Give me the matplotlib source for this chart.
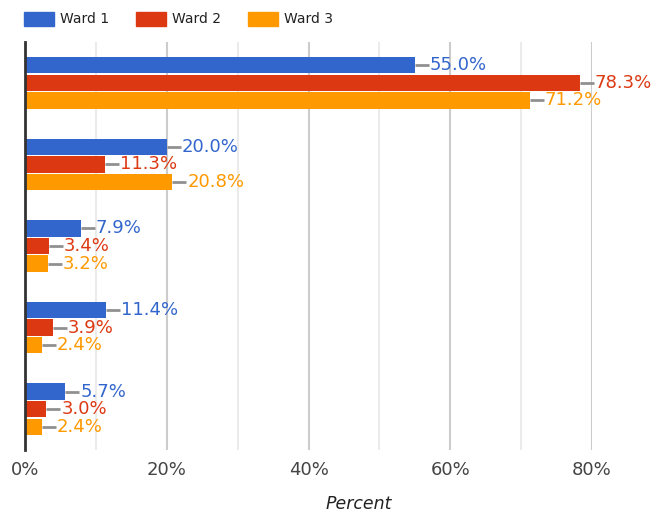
import numpy as np
import matplotlib.pyplot as plt
from matplotlib.patches import Rectangle

series = ["Ward 1", "Ward 2", "Ward 3"]
colors = ["#3366cc", "#dc3912", "#ff9900"]
ward1 = [55.0, 20.0, 7.9, 11.4, 5.7]
ward2 = [78.3, 11.3, 3.4, 3.9, 3.0]
ward3 = [71.2, 20.8, 3.2, 2.4, 2.4]
values = [ward1, ward2, ward3]
xticks = [0, 20, 40, 60, 80]
xtick_labels = ["0%", "20%", "40%", "60%", "80%"]

W, H = 652, 515
fig = plt.figure(figsize=(W / 100, H / 100), dpi=100)
ax = fig.add_axes([25 / W, 1 - 450 / H, 567 / W, 408 / H])

xmax = 80
px = xmax / 567.0  # data units per pixel
bar_h = 0.2
step = 0.215
groups = np.arange(len(ward1))

for i, (name, vals, c) in enumerate(zip(series, values, colors)):
    y = groups + (i - 1) * step
    ax.barh(y, vals, height=bar_h, color=c, label=name, zorder=3)
    for yy, v in zip(y, vals):
        ax.plot([v, v + 14 * px], [yy, yy], color="#909090", lw=2,
                zorder=2, clip_on=False, solid_capstyle="butt")
        ax.text(v + 15 * px, yy, f"{v:.1f}%", color=c, fontsize=13,
                va="center", ha="left", clip_on=False, zorder=4)

ax.set_xlim(0, xmax)
ax.set_ylim(4.5, -0.5)
ax.set_yticks([])
ax.set_xticks(xticks)
ax.set_xticklabels(xtick_labels, color="#444444", fontsize=13)
ax.set_xticks([10, 30, 50, 70], minor=True)
ax.tick_params(axis="x", which="both", length=0, pad=8)
ax.grid(axis="x", which="major", color="#cccccc", lw=1.5, zorder=0)
ax.grid(axis="x", which="minor", color="#ebebeb", lw=1.5, zorder=0)
for s in ["top", "right", "bottom"]:
    ax.spines[s].set_visible(False)
ax.spines["left"].set_color("#333333")
ax.spines["left"].set_linewidth(2)
ax.spines["left"].set_zorder(5)

# axis title, centred on the full chart width
fig.text(359 / W, 1 - 504 / H, "Percent", fontsize=12.5, style="italic",
         color="#222222", ha="center", va="center")

# legend drawn by hand to match the reference spacing
for i, (name, c) in enumerate(zip(series, colors)):
    x0 = 24 + i * 112
    fig.patches.append(Rectangle((x0 / W, 1 - 26 / H), 30 / W, 14 / H,
                                 transform=fig.transFigure, color=c))
    fig.text((x0 + 36) / W, 1 - 19 / H, name, fontsize=10, color="#222222",
             ha="left", va="center")

fig.savefig("out.png", dpi=100)
